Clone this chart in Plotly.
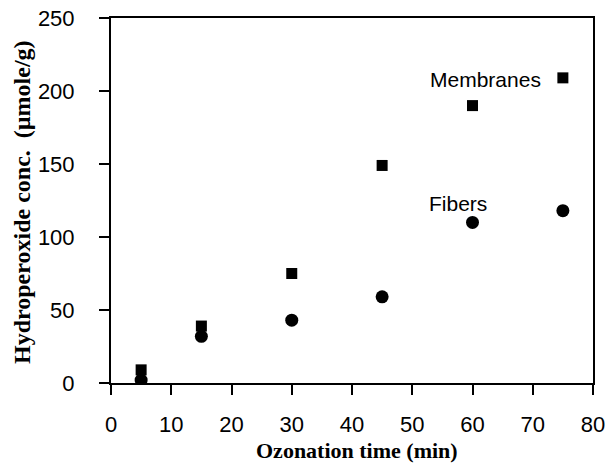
import plotly.graph_objects as go

time_min = [5, 15, 30, 45, 60, 75]
membranes = [9, 39, 75, 149, 190, 209]
fibers = [2, 32, 43, 59, 110, 118]

fig = go.Figure()
fig.add_trace(go.Scatter(x=time_min, y=membranes, mode="markers", name="Membranes",
                         marker=dict(symbol="square", size=11, color="black")))
fig.add_trace(go.Scatter(x=time_min, y=fibers, mode="markers", name="Fibers",
                         marker=dict(symbol="circle", size=13, color="black")))

sans = "Liberation Sans, Arial"
serif = "Liberation Serif, Times New Roman"

fig.add_annotation(x=62.2, y=208, text="Membranes", showarrow=False,
                   font=dict(family=sans, size=21, color="black"))
fig.add_annotation(x=57.6, y=123, text="Fibers", showarrow=False,
                   font=dict(family=sans, size=21, color="black"))

# axis titles as paper annotations
fig.add_annotation(xref="paper", yref="paper", x=0.510, y=-0.186,
                   xanchor="center", yanchor="middle",
                   text="<b>Ozonation time (min)</b>", showarrow=False,
                   font=dict(family=serif, size=22, color="black"))
fig.add_annotation(xref="paper", yref="paper", x=-0.1846, y=0.496, textangle=-90,
                   xanchor="center", yanchor="middle",
                   text="<b>Hydroperoxide conc.  (µmole/g)</b>", showarrow=False,
                   font=dict(family=serif, size=24, color="black"))

fig.update_layout(
    width=608, height=466,
    margin=dict(l=111, r=15, t=18, b=83),
    paper_bgcolor="white", plot_bgcolor="white",
    showlegend=False,
    font=dict(family=sans, color="black"),
)
fig.update_xaxes(range=[0, 80], dtick=10, showgrid=False, zeroline=False, automargin=False,
                 showline=True, linecolor="black", linewidth=2, mirror=True,
                 ticks="outside", ticklen=10, tickwidth=1.5, tickcolor="black",
                 tickfont=dict(size=22), ticklabelstandoff=11)
fig.update_yaxes(range=[0, 250], dtick=50, showgrid=False, zeroline=False, automargin=False,
                 showline=True, linecolor="black", linewidth=2, mirror=True,
                 ticks="outside", ticklen=10, tickwidth=1.5, tickcolor="black",
                 tickfont=dict(size=22), ticklabelstandoff=20)

fig.write_html("out.html", config={"displayModeBar": False},
               post_script="document.body.style.margin='0';")
